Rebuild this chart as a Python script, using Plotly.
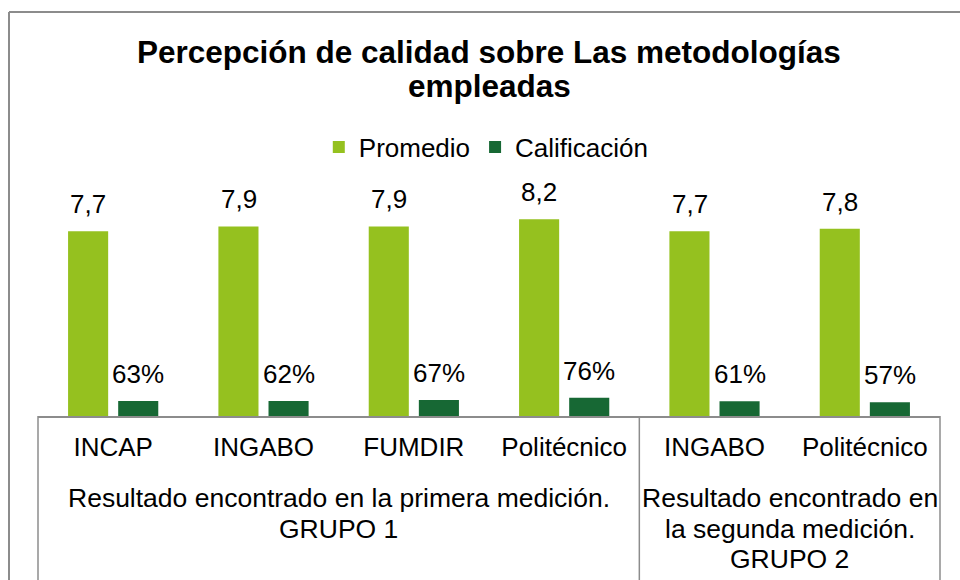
import plotly.graph_objects as go

categories = ["INCAP", "INGABO", "FUMDIR", "Politécnico", "INGABO", "Politécnico"]
promedio = [7.7, 7.9, 7.9, 8.2, 7.7, 7.8]
calificacion = [0.63, 0.62, 0.67, 0.76, 0.61, 0.57]
promedio_labels = ["7,7", "7,9", "7,9", "8,2", "7,7", "7,8"]
calificacion_labels = ["63%", "62%", "67%", "76%", "61%", "57%"]
groups = [
    (["Resultado encontrado en la primera medición.", "GRUPO 1"], [0, 1, 2, 3]),
    (["Resultado encontrado en", "la segunda medición.", "GRUPO 2"], [4, 5]),
]
title_lines = ["Percepción de calidad sobre Las metodologías", "empleadas"]

LIGHT = "#95c11f"
DARK = "#176834"
GRID = "#8c8c8c"
FONT = "Liberation Sans, Arial, sans-serif"

x = list(range(len(categories)))
XMIN, XMAX = -0.5, len(categories) - 0.5
YMAX = 10.0
PLOT_H = 240  # px

fig = go.Figure()
fig.add_bar(x=x, y=promedio, name="Promedio", marker=dict(color=LIGHT, line=dict(width=0)))
fig.add_bar(x=x, y=calificacion, name="Calificación", marker=dict(color=DARK, line=dict(width=0)))

ann = []
for i, (v, t) in enumerate(zip(promedio, promedio_labels)):
    ann.append(dict(x=i, y=v, xref="x", yref="y", text=t, showarrow=False,
                    xshift=-25, yshift=27, yanchor="middle",
                    font=dict(size=26, color="black", family=FONT)))
for i, (v, t) in enumerate(zip(calificacion, calificacion_labels)):
    ann.append(dict(x=i, y=v, xref="x", yref="y", text=t, showarrow=False,
                    xshift=25, yshift=27, yanchor="middle",
                    font=dict(size=26, color="black", family=FONT)))

def py_to_paper(py):
    return (416 - py) / PLOT_H

# group labels
for lines, idxs in groups:
    cx = sum(idxs) / len(idxs)
    for k, line in enumerate(lines):
        ann.append(dict(x=cx, y=py_to_paper(498 + 30.5 * k), xref="x", yref="paper",
                        text=line, showarrow=False, yanchor="middle",
                        font=dict(size=26.5, color="black", family=FONT)))

# title lines
for k, line in enumerate(title_lines):
    ann.append(dict(x=0.5, y=py_to_paper(52 + 34 * k), xref="paper", yref="paper",
                    text="<b>" + line + "</b>", showarrow=False, yanchor="middle",
                    font=dict(size=31.5, color="black", family=FONT)))

shapes = []
# group dividers
bounds = [XMIN] + [idxs[-1] + 0.5 for _, idxs in groups]
for b in bounds:
    xp = (b - XMIN) / (XMAX - XMIN)
    shapes.append(dict(type="line", xref="paper", yref="paper", x0=xp, x1=xp,
                       y0=0, y1=-0.8, line=dict(color=GRID, width=1.5)))
# outer chart frame (partially visible)
fx = (9 - 38) / 902
fy = py_to_paper(12)
shapes.append(dict(type="line", xref="paper", yref="paper", x0=fx, x1=fx, y0=fy, y1=-0.8,
                   line=dict(color=GRID, width=2)))
shapes.append(dict(type="line", xref="paper", yref="paper", x0=fx, x1=1.2, y0=fy, y1=fy,
                   line=dict(color=GRID, width=2)))

fig.update_layout(
    width=960, height=580,
    margin=dict(l=38, r=20, t=176, b=164),
    paper_bgcolor="white", plot_bgcolor="white",
    barmode="group", bargap=1/3, bargroupgap=0.2,
    showlegend=True,
    legend=dict(orientation="h", x=0.497, xanchor="center", y=py_to_paper(147), yanchor="middle",
                font=dict(size=26, color="black", family=FONT), bgcolor="rgba(0,0,0,0)"),
    annotations=ann, shapes=shapes,
    font=dict(family=FONT, color="black"),
)
fig.update_xaxes(range=[XMIN, XMAX], tickvals=x, ticktext=categories, showline=True,
                 linecolor=GRID, linewidth=1.5, ticks="", showgrid=False, zeroline=False,
                 tickfont=dict(size=26, color="black", family=FONT), ticklabelstandoff=7)
fig.update_yaxes(range=[0, YMAX], visible=False, showgrid=False, zeroline=False)

fig.write_html("out.html", config={"displayModeBar": False},
               post_script="document.body.style.margin='0';document.body.style.overflow='hidden';")
